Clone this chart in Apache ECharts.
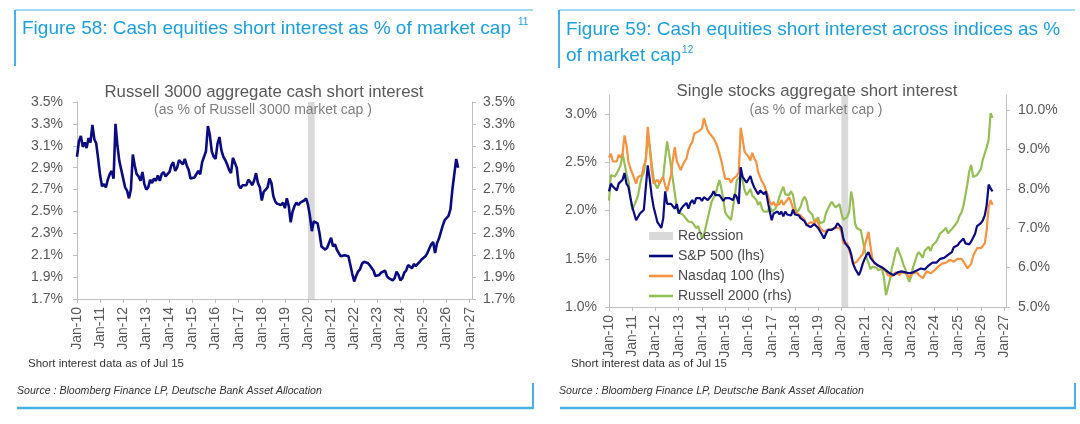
<!DOCTYPE html>
<html><head><meta charset="utf-8">
<script src="https://cdn.jsdelivr.net/npm/echarts@6/dist/echarts.min.js"></script>
<style>html,body{margin:0;padding:0;background:#fff}#c{width:1080px;height:424px}</style>
</head><body><div id="c"></div>
<script>
// ---------------- DATA (monthly, starting Jan 2010) ----------------
const startYear = 2010;
const russell3000 = [
3.00,3.14,3.19,3.09,3.13,3.08,3.17,3.13,3.29,3.16,3.12,2.98,
2.83,2.73,2.75,2.72,2.79,2.84,2.87,2.80,3.30,3.10,2.96,2.88,
2.80,2.72,2.69,2.62,2.70,3.02,2.92,2.84,2.82,2.78,2.86,2.75,
2.70,2.72,2.79,2.76,2.80,2.78,2.83,2.78,2.84,2.86,2.82,2.84,
2.86,2.92,2.95,2.87,2.90,2.97,2.97,2.93,2.98,2.92,2.88,2.80,
2.79,2.81,2.84,2.87,2.84,2.95,2.94,3.05,3.28,3.20,3.05,3.00,
2.98,3.12,3.18,3.06,3.00,2.97,2.93,2.88,2.85,2.99,2.98,2.90,
2.74,2.71,2.74,2.73,2.74,2.79,2.77,2.74,2.78,2.85,2.76,2.72,
2.60,2.68,2.70,2.72,2.80,2.76,2.64,2.59,2.57,2.56,2.56,2.58,
2.53,2.62,2.55,2.40,2.50,2.55,2.58,2.56,2.58,2.59,2.60,2.62,
2.56,2.46,2.32,2.41,2.40,2.39,2.30,2.18,2.18,2.15,2.17,2.18,
2.26,2.18,2.20,2.15,2.12,2.09,2.10,2.10,2.09,2.09,2.01,1.93,
1.86,1.91,1.95,1.97,2.02,2.04,2.03,2.03,2.01,2.01,1.96,1.91,
1.92,1.92,1.94,1.93,1.96,1.91,1.89,1.90,1.87,1.89,1.95,1.92,
1.87,1.89,1.94,1.96,2.01,2.00,1.98,2.02,2.00,2.02,2.04,2.06,
2.07,2.09,2.12,2.11,2.20,2.22,2.12,2.21,2.25,2.26,2.37,2.42,
2.44,2.46,2.52,2.70,2.84,2.98,2.90
];
const sp500 = [
2.20,2.28,2.25,2.23,2.21,2.28,2.27,2.32,2.39,2.28,2.25,2.14,
2.04,1.97,1.90,1.91,1.97,1.99,2.01,2.02,2.47,2.33,2.16,2.04,
2.02,1.88,1.87,1.82,1.92,2.20,2.07,2.06,2.07,2.06,2.02,2.07,
1.97,2.01,2.04,2.04,2.08,2.02,2.08,2.11,2.07,2.13,2.13,2.13,
2.10,2.14,2.13,2.11,2.10,2.16,2.20,2.16,2.14,2.16,2.14,2.10,
2.13,2.15,2.13,2.14,2.11,2.17,2.14,2.07,2.45,2.35,2.32,2.29,
2.31,2.36,2.29,2.24,2.25,2.17,2.21,2.19,2.17,2.20,2.18,1.99,
1.90,1.97,1.97,1.99,1.96,1.99,1.94,1.99,1.96,1.95,1.95,2.01,
1.96,1.98,1.95,1.92,1.94,1.89,1.85,1.83,1.83,1.85,1.86,1.88,
1.82,1.83,1.75,1.71,1.76,1.80,1.82,1.80,1.82,1.83,1.87,1.88,
1.82,1.71,1.66,1.66,1.61,1.55,1.45,1.40,1.38,1.33,1.38,1.45,
1.50,1.54,1.57,1.51,1.50,1.46,1.44,1.43,1.42,1.41,1.40,1.38,
1.37,1.35,1.34,1.33,1.34,1.36,1.38,1.37,1.37,1.36,1.35,1.35,
1.35,1.36,1.37,1.38,1.39,1.40,1.39,1.39,1.41,1.43,1.44,1.46,
1.47,1.46,1.47,1.50,1.50,1.51,1.53,1.54,1.55,1.57,1.62,1.64,
1.64,1.67,1.68,1.71,1.66,1.64,1.65,1.68,1.70,1.76,1.84,1.85,
1.87,1.90,1.95,2.06,2.27,2.23,2.20
];
const nasdaq100 = [
2.55,2.59,2.51,2.49,2.51,2.58,2.55,2.59,2.78,2.68,2.51,2.44,
2.39,2.37,2.28,2.35,2.37,2.37,2.47,2.52,2.87,2.68,2.42,2.28,
2.26,2.32,2.28,2.32,2.35,2.26,2.20,2.20,2.37,2.54,2.66,2.51,
2.47,2.42,2.47,2.51,2.54,2.63,2.68,2.71,2.80,2.80,2.82,2.82,
2.85,2.96,2.89,2.83,2.80,2.80,2.75,2.71,2.66,2.59,2.52,2.42,
2.33,2.32,2.33,2.29,2.33,2.32,2.36,2.40,2.86,2.74,2.61,2.63,
2.56,2.52,2.60,2.54,2.51,2.40,2.40,2.30,2.27,2.25,2.16,2.09,
2.06,2.09,2.05,2.03,2.07,2.11,2.06,2.06,2.11,2.14,2.09,2.02,
2.02,1.97,1.98,1.95,1.94,1.90,1.85,1.87,1.88,1.89,1.87,1.91,
1.87,1.82,1.80,1.78,1.79,1.80,1.82,1.81,1.80,1.82,1.83,1.82,
1.78,1.66,1.64,1.66,1.59,1.52,1.45,1.44,1.47,1.50,1.50,1.55,
1.63,1.71,1.78,1.63,1.50,1.45,1.44,1.43,1.42,1.40,1.38,1.37,
1.33,1.31,1.32,1.33,1.36,1.35,1.33,1.36,1.37,1.35,1.33,1.31,
1.32,1.35,1.37,1.36,1.33,1.33,1.30,1.31,1.37,1.36,1.35,1.37,
1.38,1.40,1.42,1.44,1.45,1.45,1.46,1.47,1.49,1.49,1.47,1.49,
1.50,1.51,1.50,1.47,1.44,1.40,1.38,1.45,1.53,1.57,1.61,1.60,
1.61,1.61,1.66,1.80,2.04,2.11,2.06
];
const russell2000 = [
7.70,8.35,8.37,8.31,8.31,8.48,8.60,8.90,8.90,8.39,8.20,7.80,
7.46,7.50,7.69,7.84,8.10,8.31,8.42,8.77,9.25,9.07,8.65,8.27,
8.10,8.01,8.14,8.14,8.31,8.77,9.20,8.90,8.56,8.22,7.88,7.50,
7.40,7.35,7.35,7.29,7.25,7.17,7.19,7.15,7.08,7.00,7.06,6.90,
6.74,6.83,7.04,7.25,7.46,7.67,7.77,7.86,8.05,8.22,8.01,7.74,
7.40,7.32,7.36,7.21,7.17,7.84,8.22,8.20,8.33,8.20,7.97,7.84,
7.91,7.99,7.83,7.80,7.72,7.59,7.67,7.50,7.42,7.42,7.42,7.57,
7.42,7.40,7.50,7.63,7.80,7.94,8.05,7.86,7.91,7.84,7.94,7.84,
7.55,7.40,7.46,7.56,7.72,7.80,7.69,7.45,7.50,7.34,7.18,7.23,
7.27,7.12,7.11,7.17,7.38,7.49,7.59,7.67,7.59,7.53,7.52,7.61,
7.38,7.21,7.25,7.29,7.42,7.93,7.67,7.12,7.00,7.04,6.95,6.91,
6.45,6.24,6.11,5.96,6.02,6.07,6.00,5.94,5.91,5.96,5.73,5.30,
5.35,5.69,5.98,6.18,6.40,6.51,6.36,6.24,6.07,5.96,5.77,5.64,
5.77,6.02,6.15,6.32,6.39,6.34,6.25,6.42,6.42,6.53,6.42,6.56,
6.53,6.66,6.68,6.87,6.83,6.95,7.01,6.87,6.91,6.98,6.93,7.10,
7.18,7.32,7.40,7.57,7.84,8.11,8.45,8.60,8.30,8.35,8.35,8.38,
8.50,8.75,8.90,9.05,9.25,9.92,9.80
];
const recession = [2020.0, 2020.29];
const xTicks = [2010,2011,2012,2013,2014,2015,2016,2017,2018,2019,2020,2021,2022,2023,2024,2025,2026,2027];
const yTicks58 = [1.7,1.9,2.1,2.3,2.5,2.7,2.9,3.1,3.3,3.5];
const yTicks59L = [1.0,1.5,2.0,2.5,3.0];
const yTicks59R = [5,6,7,8,9,10];

// ---------------- STYLE ----------------
const FONT = '"Liberation Sans", Arial, sans-serif';
const NAVY = '#0a0a82', ORANGE = '#f7923f', GREEN = '#95bf55', GREY = '#d9d9d9';
const AXC = '#bfbfbf', LBL = '#595959', BLUE = '#1b9fe0', FRAME = '#45b1e8';
const LINE_ICON = 'path://M0,0H24V2.6H0Z';

function toPairs(arr){ return arr.map((v,i)=>[startYear + i/12, v]); }
function measure(txt, font){ const c=document.createElement('canvas').getContext('2d'); c.font=font; return c.measureText(txt).width; }

function xAxis(gridIndex, max){
  return { type:'value', gridIndex, min:2010, max,
    axisLine:{show:true, lineStyle:{color:AXC, width:1}},
    axisTick:{show:true, customValues:xTicks, length:4, lineStyle:{color:AXC}},
    axisLabel:{customValues:xTicks, rotate:90, margin:8, fontSize:14, fontFamily:FONT, color:LBL,
      formatter:v=>'Jan-' + String(Math.round(v)).slice(2)},
    splitLine:{show:false} };
}
function yAxis(gridIndex, position, min, max, ticks, margin){
  return { type:'value', gridIndex, position, min, max,
    axisLine:{show:true, lineStyle:{color:AXC, width:1}},
    axisTick:{show:true, customValues:ticks, length:4, lineStyle:{color:AXC}},
    axisLabel:{customValues:ticks, margin, fontSize:14, fontFamily:FONT, color:LBL,
      formatter:v=>v.toFixed(1)+'%'},
    splitLine:{show:false} };
}

const t1 = 'Figure 58: Cash equities short interest as % of market cap';
const t2a = 'Figure 59: Cash equities short interest across indices as %';
const t2b = 'of market cap';
const TS = 19;
const TF = TS + 'px ' + FONT;
const w1 = measure(t1, TF), w2 = measure(t2b, TF);

function txt(x, y, text, size, color, align, extra){
  return { type:'text', x, y, silent:true, z:10,
    style:{ text, fill:color, font:(extra&&extra.italic?'italic ':'') + size + 'px ' + FONT,
      textAlign:align||'left', align:align||'left', textVerticalAlign:'middle', verticalAlign:'middle'} };
}
function ln(x1,y1,x2,y2,w){ return { type:'line', silent:true, shape:{x1,y1,x2,y2}, style:{stroke:FRAME, lineWidth:w} }; }

const chart = echarts.init(document.getElementById('c'), null, {renderer:'canvas'});
chart.setOption({
  animation:false,
  backgroundColor:'#fff',
  grid:[
    {left:77, top:102, width:395, height:197},
    {left:609, top:95, width:397, height:212}
  ],
  xAxis:[ xAxis(0, 2027.1), xAxis(1, 2027.08) ],
  yAxis:[
    yAxis(0,'left',1.7,3.5,yTicks58,14),
    yAxis(0,'right',1.7,3.5,yTicks58,11),
    yAxis(1,'left',1.0,3.2,yTicks59L,12),
    yAxis(1,'right',5,10.38,yTicks59R,12)
  ],
  legend:{ left:644, top:224, orient:'vertical', itemWidth:24, itemHeight:8, itemGap:6,
    textStyle:{fontSize:14, color:'#4a4a4a', fontFamily:FONT, lineHeight:14},
    data:[{name:'Recession', icon:'rect'},
          {name:'S&P 500 (lhs)', icon:LINE_ICON},
          {name:'Nasdaq 100 (lhs)', icon:LINE_ICON},
          {name:'Russell 2000 (rhs)', icon:LINE_ICON}] },
  series:[
    { name:'Recession', type:'line', xAxisIndex:0, yAxisIndex:0, data:[], symbol:'none', z:1,
      itemStyle:{color:GREY}, lineStyle:{color:GREY},
      markArea:{silent:true, itemStyle:{color:GREY}, data:[[{xAxis:recession[0]},{xAxis:recession[1]}]]} },
    { name:'Russell 3000', type:'line', xAxisIndex:0, yAxisIndex:0, data:toPairs(russell3000), symbol:'none', z:3,
      lineStyle:{color:NAVY, width:2.6}, itemStyle:{color:NAVY} },
    { name:'Recession', type:'line', xAxisIndex:1, yAxisIndex:2, data:[], symbol:'none', z:1,
      itemStyle:{color:GREY}, lineStyle:{color:GREY},
      markArea:{silent:true, itemStyle:{color:GREY}, data:[[{xAxis:recession[0]},{xAxis:recession[1]}]]} },
    { name:'Russell 2000 (rhs)', type:'line', xAxisIndex:1, yAxisIndex:3, data:toPairs(russell2000), symbol:'none', z:3,
      lineStyle:{color:GREEN, width:2.2}, itemStyle:{color:GREEN} },
    { name:'Nasdaq 100 (lhs)', type:'line', xAxisIndex:1, yAxisIndex:2, data:toPairs(nasdaq100), symbol:'none', z:4,
      lineStyle:{color:ORANGE, width:2.2}, itemStyle:{color:ORANGE} },
    { name:'S&P 500 (lhs)', type:'line', xAxisIndex:1, yAxisIndex:2, data:toPairs(sp500), symbol:'none', z:5,
      lineStyle:{color:NAVY, width:2.2}, itemStyle:{color:NAVY} }
  ],
  graphic:[
    ln(15,10,533,10,1), ln(15,10,15,66,2), ln(17,408,533,408,2.5), ln(533,383,533,409,2),
    ln(559,10,1075,10,1), ln(559,10,559,68,2), ln(560,408,1075,408,2.5), ln(1075,383,1075,409,2),
    txt(22, 29, t1, TS, BLUE),
    txt(22 + w1 + 7, 22, '11', 10, BLUE),
    txt(566, 30, t2a, TS, BLUE),
    txt(566, 56, t2b, TS, BLUE),
    txt(566 + w2 + 1, 50, '12', 10, BLUE),
    txt(264, 92, 'Russell 3000 aggregate cash short interest', 16.8, LBL, 'center'),
    txt(263, 110, '(as % of Russell 3000 market cap )', 14, '#7f7f7f', 'center'),
    txt(817, 91, 'Single stocks aggregate short interest', 16.8, LBL, 'center'),
    txt(816, 110, '(as % of market cap )', 14, '#7f7f7f', 'center'),
    txt(28, 364, 'Short interest data as of Jul 15', 11.5, '#333'),
    txt(571, 364, 'Short interest data as of Jul 15', 11.5, '#333'),
    txt(17, 391, 'Source : Bloomberg Finance LP, Deutsche Bank Asset Allocation', 10.6, '#333', 'left', {italic:true}),
    txt(559, 391, 'Source : Bloomberg Finance LP, Deutsche Bank Asset Allocation', 10.6, '#333', 'left', {italic:true})
  ]
});
</script>
</body></html>
